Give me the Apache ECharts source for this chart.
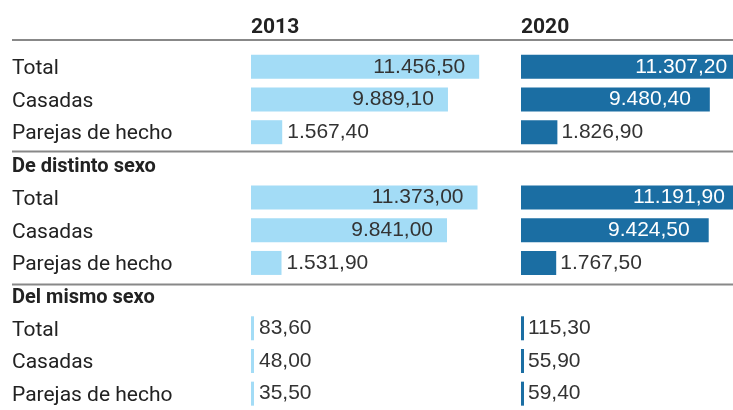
<!DOCTYPE html>
<html>
<head>
<meta charset="utf-8">
<script src="https://cdn.jsdelivr.net/npm/echarts@6/dist/echarts.min.js"></script>
<style>
html, body { margin: 0; padding: 0; background: #fff; }
#chart { width: 733px; height: 410px; }
</style>
</head>
<body>
<div id="chart"></div>
<script>
// filas de la tabla (las de sección no llevan barra)
const rows = ['Total', 'Casadas', 'Parejas de hecho', 'De distinto sexo', 'Total', 'Casadas', 'Parejas de hecho', 'Del mismo sexo', 'Total', 'Casadas', 'Parejas de hecho'];
const sectionRows = [3, 7];
const years = ['2013', '2020'];
const values2013 = [11456.5, 9889.1, 1567.4, null, 11373.0, 9841.0, 1531.9, null, 83.6, 48.0, 35.5];
const values2020 = [11307.2, 9480.4, 1826.9, null, 11191.9, 9424.5, 1767.5, null, 115.3, 55.9, 59.4];

const colors = ['#a3dcf6', '#1b6ea3'];
const insideColors = ['#333', '#fff'];

/**
 * formato español: 11.456,50
 * @param v
 */
function fmt(v) {
    const parts = v.toFixed(2).split('.');
    return parts[0].replace(/\B(?=(\d{3})+(?!\d))/g, '.') + ',' + parts[1];
}

function barData(values, k) {
    return values.map(v => {
        if (v == null) return null;
        const inside = v > 5000;
        return {
            value: v,
            label: inside
                ? {position: 'insideRight', distance: k === 0 ? 14 : 19, color: insideColors[k]}
                : {position: 'right', distance: k === 0 ? 5 : 4, color: '#333'}
        };
    });
}

const chart = echarts.init(document.getElementById('chart'));

const gridTop = 50.5;
const rowH = 33.1;
const pxPerUnit = 239 / 12000;
const lineY = [40, 151.5, 284.5];

chart.setOption({
    animation: false,
    title: years.map((y, k) => ({
        text: y,
        left: k === 0 ? 251 : 521,
        top: 17,
        padding: 0,
        textStyle: {fontFamily: 'Roboto', fontSize: 21, fontWeight: 'bold', color: '#222'}
    })),
    grid: [
        {left: 251, top: gridTop, width: 239, height: rowH * rows.length},
        {left: 521, top: gridTop, width: 212, height: rowH * rows.length}
    ],
    xAxis: [
        {gridIndex: 0, type: 'value', min: 0, max: 12000, show: false},
        {gridIndex: 1, type: 'value', min: 0, max: 212 / pxPerUnit, show: false}
    ],
    yAxis: [0, 1].map(i => ({
        gridIndex: i,
        type: 'category',
        data: rows,
        inverse: true,
        show: i === 0,
        axisLine: {show: false},
        axisTick: {show: false},
        splitLine: {show: false},
        axisLabel: {
            margin: 239,
            align: 'left',
            formatter: (val, idx) => sectionRows.includes(idx) ? '{h|' + val + '}' : '{n|' + val + '}',
            rich: {
                n: {fontFamily: 'Roboto', fontSize: 21, color: '#222', padding: [4, 0, 0, 0]},
                h: {fontFamily: 'Roboto', fontSize: 20, fontWeight: 'bold', color: '#222', padding: [4, 0, 0, 0]}
            }
        }
    })),
    series: [values2013, values2020].map((vals, k) => ({
        type: 'bar',
        name: years[k],
        xAxisIndex: k,
        yAxisIndex: k,
        barWidth: 24,
        barMinHeight: 3,
        clip: false,
        itemStyle: {color: colors[k]},
        label: {
            show: true,
            fontFamily: 'Liberation Sans',
            fontSize: 21,
            padding: [3, 0, 0, 0],
            formatter: p => fmt(p.value)
        },
        data: barData(vals, k)
    })),
    graphic: lineY.map(y => ({
        type: 'line',
        shape: {x1: 12, y1: y, x2: 733, y2: y},
        style: {stroke: '#888', lineWidth: 2}
    }))
});
</script>
</body>
</html>
